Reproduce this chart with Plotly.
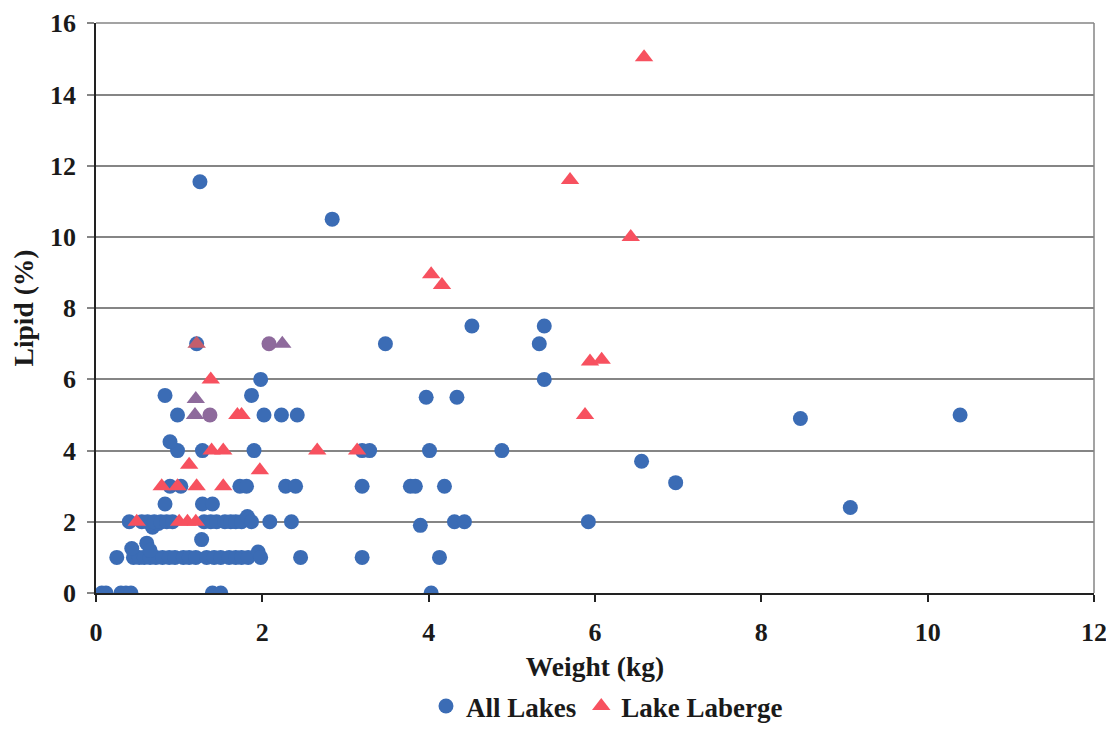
import plotly.graph_objects as go

# ---- Data ----
all_lakes_weight = [
    0.07, 0.12, 0.30, 0.36, 0.42, 1.40, 1.50, 4.03,
    0.25, 0.45, 0.52, 0.58, 0.65, 0.72, 0.80, 0.88, 0.95, 1.05, 1.12, 1.20,
    1.33, 1.42, 1.50, 1.60, 1.68, 1.75, 1.83, 1.95, 1.98, 2.46, 3.20, 4.13,
    0.43, 0.61, 0.65, 1.27,
    0.68, 0.75, 3.90,
    0.40, 0.55, 0.62, 0.70, 0.78, 0.85, 0.92, 1.30, 1.38, 1.45, 1.55, 1.62,
    1.68, 1.75, 1.82, 1.87, 2.09, 2.35, 4.31, 4.43, 5.92,
    0.83, 1.28, 1.40,
    0.89, 1.02, 1.73, 1.81, 2.28, 2.40, 3.20, 3.78, 3.84, 4.19,
    0.98, 1.28, 1.90, 3.20, 3.29, 4.01, 4.88, 0.89,
    6.56, 6.97, 9.07,
    0.98, 1.37, 2.02, 2.23, 2.42, 10.39, 8.47,
    0.83, 1.87, 3.97, 4.34,
    1.98, 5.39,
    1.21, 2.08, 3.48, 5.33,
    4.52, 5.39,
    2.84, 1.25,
]
all_lakes_lipid = [
    0, 0, 0, 0, 0, 0, 0, 0,
    1, 1, 1, 1, 1, 1, 1, 1, 1, 1, 1, 1,
    1, 1, 1, 1, 1, 1, 1, 1.15, 1.0, 1, 1, 1,
    1.25, 1.4, 1.2, 1.5,
    1.85, 1.95, 1.9,
    2, 2, 2, 2, 2, 2, 2, 2, 2, 2, 2, 2,
    2, 2, 2.15, 2, 2, 2, 2, 2, 2,
    2.5, 2.5, 2.5,
    3, 3, 3, 3, 3, 3, 3, 3, 3, 3,
    4, 4, 4, 4, 4, 4, 4, 4.25,
    3.7, 3.1, 2.4,
    5, 5, 5, 5, 5, 5, 4.9,
    5.55, 5.55, 5.5, 5.5,
    6, 6,
    7, 7, 7, 7,
    7.5, 7.5,
    10.5, 11.55,
]

laberge_weight = [
    0.49, 1.00, 1.10, 1.20,
    0.79, 0.98, 1.21, 1.53,
    1.12, 1.97,
    1.39, 1.53, 2.66, 3.14,
    1.19, 1.70, 1.75, 5.88,
    1.20,
    1.38,
    1.21, 2.24,
    5.94, 6.08,
    4.16, 4.03,
    6.43, 5.70, 6.59,
]
laberge_lipid = [
    2, 2, 2, 2,
    3, 3, 3, 3,
    3.6, 3.45,
    4, 4, 4, 4,
    5, 5, 5, 5,
    5.45,
    6,
    7, 7,
    6.5, 6.55,
    8.65, 8.95,
    10, 11.6, 15.05,
]

x_ticks = [0, 2, 4, 6, 8, 10, 12]
y_ticks = [0, 2, 4, 6, 8, 10, 12, 14, 16]

# ---- Styles ----
BLUE = "#3B6CB5"
RED = "#F7515F"
PURPLE = "#8E6A9C"
MIXED = "#C45E6C"
FONT = "Liberation Serif"
TEXT = "#1a1a1a"

# points where both series overlap appear purple in the reference
overlap_blue = {(2.08, 7), (1.37, 5)}
overlap_red = {(2.24, 7), (1.20, 5.45), (1.19, 5)}
blue_colors = [PURPLE if (x, y) in overlap_blue else BLUE
               for x, y in zip(all_lakes_weight, all_lakes_lipid)]
red_colors = []
for x, y in zip(laberge_weight, laberge_lipid):
    if (x, y) in overlap_red:
        red_colors.append(PURPLE)
    elif (x, y) == (1.21, 7):
        red_colors.append(MIXED)
    else:
        red_colors.append(RED)

fig = go.Figure()
fig.add_trace(go.Scatter(
    x=all_lakes_weight, y=all_lakes_lipid, mode="markers", name="All Lakes",
    marker=dict(symbol="circle", size=15, color=blue_colors, line=dict(width=0)),
))
fig.add_trace(go.Scatter(
    x=laberge_weight, y=laberge_lipid, mode="markers", name="Lake Laberge",
    marker=dict(symbol="triangle-up", size=16, color=red_colors, line=dict(width=0)),
))

tick_font = dict(family=FONT, size=26, color=TEXT, weight="bold")
title_font = dict(family=FONT, size=27.5, color=TEXT, weight="bold")

# page body adds an 8px offset, so the figure is sized to fit the window
fig.update_layout(
    width=1106, height=723,
    margin=dict(l=88, r=20, t=15, b=138),
    paper_bgcolor="white", plot_bgcolor="white",
    showlegend=True,
    legend=dict(orientation="h", x=0.512, xanchor="center",
                yref="container", y=0.0, yanchor="bottom",
                font=dict(family=FONT, size=27, color=TEXT, weight="bold"),
                itemsizing="trace", tracegroupgap=0, itemwidth=30),
    xaxis=dict(
        range=[0, 12], tickvals=x_ticks, ticktext=[str(v) for v in x_ticks],
        showgrid=False, zeroline=False, automargin=False,
        showline=True, linecolor="#222", linewidth=1.5,
        ticks="outside", ticklen=7, tickcolor="#222", tickwidth=1.5,
        tickfont=tick_font, ticklabelstandoff=8, ticklabeloverflow="allow",
        title=dict(text="Weight (kg)", font=title_font, standoff=12),
    ),
    yaxis=dict(
        range=[0, 16.01], tickvals=y_ticks, ticktext=[str(v) for v in y_ticks],
        showgrid=True, gridcolor="#858585", gridwidth=1.5, zeroline=False,
        automargin=False,
        showline=True, linecolor="#222", linewidth=1.5,
        ticks="outside", ticklen=7, tickcolor="#858585", tickwidth=1.5,
        tickfont=tick_font, ticklabelstandoff=6, ticklabeloverflow="allow",
        title=dict(text="Lipid (%)", font=title_font, standoff=10),
    ),
    shapes=[
        dict(type="line", xref="paper", yref="paper", x0=1, x1=1, y0=0, y1=1,
             line=dict(color="#858585", width=1.5), layer="below"),
        dict(type="line", xref="paper", yref="paper", x0=0, x1=1, y0=1, y1=1,
             line=dict(color="#858585", width=1.5), layer="below"),
    ],
)

fig.write_html("out.html")
